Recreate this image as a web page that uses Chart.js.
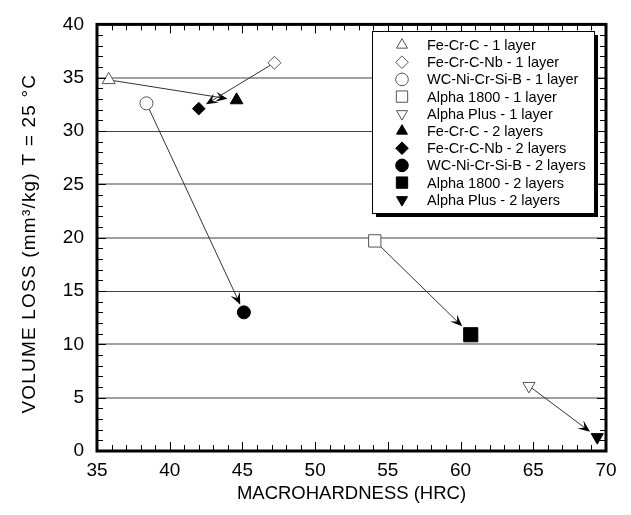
<!DOCTYPE html>
<html>
<head>
<meta charset="utf-8">
<script src="https://cdn.jsdelivr.net/npm/chart.js@4/dist/chart.umd.min.js"></script>
<style>
  html, body { margin: 0; padding: 0; background: #fff; }
  #wrap { width: 631px; height: 515px; }
</style>
</head>
<body>
<div id="wrap"><canvas id="chart" width="631" height="515"></canvas></div>
<script>
// coatings and their measured values (1 layer -> 2 layers)
const materials = ['Fe-Cr-C', 'Fe-Cr-C-Nb', 'WC-Ni-Cr-Si-B', 'Alpha 1800', 'Alpha Plus'];
const hardness1 = [35.8, 47.2, 38.4, 54.1, 64.7];
const loss1     = [34.8, 36.4, 32.6, 19.7, 6.1];
const hardness2 = [44.6, 42.0, 45.1, 60.7, 69.4];
const loss2     = [32.9, 32.1, 13.0, 10.9, 1.3];
const markerStyles = ['triangle', 'rectRot', 'circle', 'rect', 'triangle'];
const markerRotation = [0, 0, 0, 0, 180];
const markerRadius1 = [7.5, 6.5, 6.5, 8.7, 7];
const markerRadius2 = [7.3, 6.3, 6.5, 10, 7];
const xRange = [35, 70];
const yRange = [0, 40];
const darkGridValues = [15, 30];
const yTitle = 'VOLUME LOSS (mm³/kg) T = 25 °C';
const xTitle = 'MACROHARDNESS (HRC)';

const FONT = "'Liberation Sans', Arial, sans-serif";

const datasets = [];
materials.forEach((m, i) => {
    datasets.push({
        label: m + ' - 1 layer',
        data: [{ x: hardness1[i], y: loss1[i] }],
        pointStyle: markerStyles[i],
        rotation: markerRotation[i],
        pointRadius: markerRadius1[i],
        pointHoverRadius: markerRadius1[i],
        backgroundColor: '#ffffff',
        borderColor: '#555555',
        borderWidth: 1
    });
});
materials.forEach((m, i) => {
    datasets.push({
        label: m + ' - 2 layers',
        data: [{ x: hardness2[i], y: loss2[i] }],
        pointStyle: markerStyles[i],
        rotation: markerRotation[i],
        pointRadius: markerRadius2[i],
        pointHoverRadius: markerRadius2[i],
        backgroundColor: '#000000',
        borderColor: '#000000',
        borderWidth: 1
    });
});

function drawArrowHead(ctx, x, y, ang) {
    const len = 12, half = 5, notch = 7;
    ctx.save();
    ctx.translate(x, y);
    ctx.rotate(ang);
    ctx.beginPath();
    ctx.moveTo(0, 0);
    ctx.lineTo(-len, -half);
    ctx.lineTo(-notch, 0);
    ctx.lineTo(-len, half);
    ctx.closePath();
    ctx.fillStyle = '#000';
    ctx.fill();
    ctx.restore();
}

function drawTickMarks(ctx, a, xs, ys) {
    ctx.save();
    ctx.fillStyle = '#000';
    for (let v = xRange[0] + 1; v < xRange[1]; v++) {
        const px = Math.round(xs.getPixelForValue(v));
        const l = v % 5 === 0 ? 9 : 6;
        ctx.fillRect(px, a.bottom - l, 1, l);
        ctx.fillRect(px, a.top, 1, l);
    }
    for (let v = yRange[0] + 1; v < yRange[1]; v++) {
        const py = Math.round(ys.getPixelForValue(v));
        const l = v % 5 === 0 ? 9 : 6;
        ctx.fillRect(a.left, py, l, 1);
        ctx.fillRect(a.right - l, py, l, 1);
    }
    ctx.restore();
}

const arrowPlugin = {
    id: 'arrows',
    beforeDatasetsDraw(chart) {
        const ctx = chart.ctx;
        const xs = chart.scales.x, ys = chart.scales.y;
        ctx.save();
        materials.forEach((m, i) => {
            const x1 = xs.getPixelForValue(hardness1[i]);
            const y1 = ys.getPixelForValue(loss1[i]);
            const x2 = xs.getPixelForValue(hardness2[i]);
            const y2 = ys.getPixelForValue(loss2[i]);
            const ang = Math.atan2(y2 - y1, x2 - x1);
            const stop = markerRadius2[i] + 2;
            const tx = x2 - Math.cos(ang) * stop;
            const ty = y2 - Math.sin(ang) * stop;
            ctx.beginPath();
            ctx.moveTo(x1, y1);
            ctx.lineTo(tx - Math.cos(ang) * 6, ty - Math.sin(ang) * 6);
            ctx.strokeStyle = '#333';
            ctx.lineWidth = 1;
            ctx.stroke();
            drawArrowHead(ctx, tx, ty, ang);
        });
        ctx.restore();
    },
    afterDraw(chart) {
        const ctx = chart.ctx;
        const a = chart.chartArea;
        const xs = chart.scales.x, ys = chart.scales.y;
        ctx.save();
        // heavy frame
        ctx.strokeStyle = '#000';
        ctx.lineWidth = 3;
        ctx.strokeRect(a.left, a.top, a.right - a.left, a.bottom - a.top);

        // inward ticks on all four sides
        drawTickMarks(ctx, a, xs, ys);

        // rotated y-axis title, slightly spaced like the original
        ctx.save();
        ctx.translate(30, (a.top + a.bottom) / 2 + 6);
        ctx.rotate(-Math.PI / 2);
        ctx.font = '19px ' + FONT;
        if ('letterSpacing' in ctx) ctx.letterSpacing = '1.2px';
        ctx.fillStyle = '#000';
        ctx.textAlign = 'center';
        ctx.textBaseline = 'middle';
        ctx.fillText(yTitle, 0, 0);
        ctx.restore();

        // legend box with drop shadow
        const lx = 372, ly = 31, lw = 222, lh = 182;
        ctx.fillStyle = '#000';
        ctx.fillRect(lx + 4, ly + 4, lw, lh);
        ctx.fillStyle = '#fff';
        ctx.fillRect(lx, ly, lw, lh);
        ctx.lineWidth = 1;
        ctx.strokeStyle = '#000';
        ctx.strokeRect(lx + 0.5, ly + 0.5, lw, lh);
        ctx.font = '14.5px ' + FONT;
        ctx.textBaseline = 'middle';
        ctx.textAlign = 'left';
        chart.data.datasets.forEach((ds, i) => {
            const cy = 45 + i * 17.2;
            ctx.fillStyle = ds.backgroundColor;
            ctx.strokeStyle = ds.borderColor;
            ctx.lineWidth = 1;
            Chart.helpers.drawPoint(ctx, {
                pointStyle: ds.pointStyle,
                rotation: ds.rotation,
                radius: ds.pointStyle === 'rect' ? 8 : 6.3,
                borderWidth: 1
            }, 402, cy);
            ctx.fillStyle = '#000';
            ctx.fillText(ds.label, 427, cy + 1);
        });
        ctx.restore();
    }
};

new Chart(document.getElementById('chart'), {
    type: 'scatter',
    data: { datasets: datasets },
    plugins: [arrowPlugin],
    options: {
        responsive: false,
        animation: false,
        layout: { padding: { left: 0, right: 25, top: 18, bottom: 0 } },
        plugins: {
            legend: { display: false },
            tooltip: { enabled: false }
        },
        scales: {
            x: {
                type: 'linear',
                min: xRange[0],
                max: xRange[1],
                afterFit(scale) { scale.height = 64; },
                ticks: { stepSize: 5, padding: 8, color: '#000', font: { family: FONT, size: 19 } },
                grid: { display: false, drawTicks: false },
                border: { display: false },
                title: {
                    display: true,
                    text: xTitle,
                    color: '#000',
                    font: { family: FONT, size: 18.5 },
                    padding: { top: 0, bottom: 10 }
                }
            },
            y: {
                type: 'linear',
                min: yRange[0],
                max: yRange[1],
                afterFit(scale) { scale.width = 97; },
                ticks: { stepSize: 5, padding: 13, color: '#000', font: { family: FONT, size: 19 } },
                grid: {
                    drawTicks: false,
                    color: c => (c.tick.value === yRange[0] || c.tick.value === yRange[1]) ? 'rgba(0,0,0,0)' :
                        (darkGridValues.includes(c.tick.value) ? '#444' : '#a0a0a0'),
                    lineWidth: c => darkGridValues.includes(c.tick.value) ? 1 : 2
                },
                border: { display: false },
                title: { display: false }
            }
        }
    }
});
</script>
</body>
</html>
